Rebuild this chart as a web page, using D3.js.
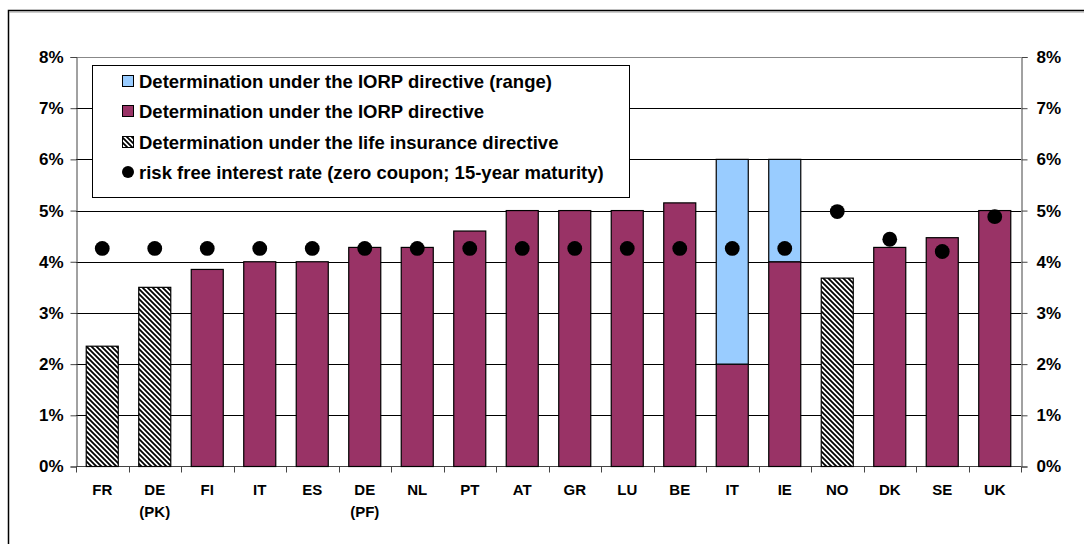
<!DOCTYPE html>
<html><head><meta charset="utf-8">
<script src="https://cdn.jsdelivr.net/npm/d3@7"></script>
<style>body{margin:0;background:#fff}svg{display:block;font-family:"Liberation Sans",Arial,sans-serif;font-weight:bold}</style>
</head><body><svg id="c" width="1084" height="544"></svg>
<script>
const categories = ["FR","DE\n(PK)","FI","IT","ES","DE\n(PF)","NL","PT","AT","GR","LU","BE","IT","IE","NO","DK","SE","UK"];
const lifeInsurance = [2.35,3.5,null,null,null,null,null,null,null,null,null,null,null,null,3.68,null,null,null];
const iorp = [null,null,3.85,4.0,4.0,4.28,4.28,4.6,5.0,5.0,5.0,5.15,2.0,4.0,null,4.28,4.47,5.0];
const iorpRangeTop = [null,null,null,null,null,null,null,null,null,null,null,null,6.0,6.0,null,null,null,null];
const riskFree = [4.26,4.26,4.26,4.26,4.26,4.26,4.26,4.26,4.26,4.26,4.26,4.26,4.26,4.26,4.98,4.44,4.2,4.88];
const yTicks = [0,1,2,3,4,5,6,7,8];
const legendLabels = ["Determination under the IORP directive (range)","Determination under the IORP directive","Determination under the life insurance directive","risk free interest rate (zero coupon; 15-year maturity)"];

const svg = d3.select("#c");
const L = 76, R = 1021, T = 57, B = 466.5;
const x = d3.scaleBand().domain(d3.range(categories.length)).range([L,R]).paddingInner(0.39).paddingOuter(0.195);
const y = d3.scaleLinear().domain([0,8]).range([B,T]);

const defs = svg.append("defs");
const pat = defs.append("pattern").attr("id","hatch").attr("patternUnits","userSpaceOnUse").attr("width",5).attr("height",5);
pat.append("rect").attr("width",5).attr("height",5).attr("fill","#fff");
pat.append("path").attr("d","M-1,-1L6,6M-1,4L1,6M4,-1L6,1").attr("stroke","#000").attr("stroke-width",1.8);

// outer frame
svg.append("rect").attr("x",8.5).attr("y",10.5).attr("width",1200).attr("height",700).attr("fill","none").attr("stroke","#000").attr("stroke-width",1.5);
svg.append("line").attr("x1",9).attr("x2",1084).attr("y1",12).attr("y2",12).attr("stroke","#999").attr("stroke-width",1);

// gridlines
svg.append("g").selectAll("line").data(yTicks.slice(1)).join("line")
  .attr("x1",L).attr("x2",R).attr("y1",d=>Math.round(y(d))+0.5).attr("y2",d=>Math.round(y(d))+0.5)
  .attr("stroke",d=>d===8?"#888":"#000").attr("stroke-width",1);

// axes
const yl = svg.append("g").attr("transform",`translate(${L+0.5},0)`).call(d3.axisLeft(y).tickValues(yTicks).tickFormat(d=>d+"%").tickSize(6).tickPadding(7));
const yr = svg.append("g").attr("transform",`translate(${R+0.5},0)`).call(d3.axisRight(y).tickValues(yTicks).tickFormat(d=>d+"%").tickSize(6).tickPadding(9));
[yl,yr].forEach(g=>{g.select(".domain").attr("stroke","#444");g.selectAll(".tick line").attr("stroke","#444");
  g.selectAll("text").attr("font-size",17).attr("font-weight","bold").attr("fill","#000").attr("font-family","Liberation Sans, Arial, sans-serif");});

// x axis
svg.append("line").attr("x1",L).attr("x2",R).attr("y1",B).attr("y2",B).attr("stroke","#444");
const step = x.step();
svg.append("g").selectAll("line").data(d3.range(categories.length+1)).join("line")
  .attr("x1",i=>Math.round(L+i*step)+0.5).attr("x2",i=>Math.round(L+i*step)+0.5).attr("y1",B).attr("y2",B+6).attr("stroke","#444");

// bars
const bars = svg.append("g");
bars.selectAll("rect.life").data(lifeInsurance.map((v,i)=>({v,i})).filter(d=>d.v!=null)).join("rect")
  .attr("x",d=>x(d.i)).attr("width",x.bandwidth()).attr("y",d=>y(d.v)).attr("height",d=>y(0)-y(d.v))
  .attr("fill","url(#hatch)").attr("stroke","#000").attr("stroke-width",1.2);
bars.selectAll("rect.iorp").data(iorp.map((v,i)=>({v,i})).filter(d=>d.v!=null)).join("rect")
  .attr("x",d=>x(d.i)).attr("width",x.bandwidth()).attr("y",d=>y(d.v)).attr("height",d=>y(0)-y(d.v))
  .attr("fill","#993366").attr("stroke","#000").attr("stroke-width",1.2);
bars.selectAll("rect.range").data(iorpRangeTop.map((v,i)=>({v,i,b:iorp[i]})).filter(d=>d.v!=null)).join("rect")
  .attr("x",d=>x(d.i)).attr("width",x.bandwidth()).attr("y",d=>y(d.v)).attr("height",d=>y(d.b)-y(d.v))
  .attr("fill","#99CCFF").attr("stroke","#000").attr("stroke-width",1.2);

// dots
svg.append("g").selectAll("circle").data(riskFree).join("circle")
  .attr("cx",(d,i)=>x(i)+x.bandwidth()/2).attr("cy",d=>y(d)).attr("r",7.4).attr("fill","#000");

// x labels
const xl = svg.append("g").selectAll("text").data(categories).join("text")
  .attr("x",(d,i)=>x(i)+x.bandwidth()/2).attr("y",495).attr("text-anchor","middle").attr("font-size",15);
xl.each(function(d){const t=d3.select(this);d.split("\n").forEach((s,k)=>t.append("tspan").attr("x",t.attr("x")).attr("dy",k?22:0).text(s));});

// legend
const lg = svg.append("g");
lg.append("rect").attr("x",92.5).attr("y",65.5).attr("width",537).attr("height",132).attr("fill","#fff").attr("stroke","#000");
const rowsY = [81,111,142,172];
legendLabels.forEach((t,k)=>{
  const cy = rowsY[k];
  if(k<3){lg.append("rect").attr("x",122.5).attr("y",cy-5.5).attr("width",11).attr("height",11)
    .attr("fill",k===0?"#99CCFF":k===1?"#993366":"url(#hatch)").attr("stroke","#000");}
  else lg.append("circle").attr("cx",128).attr("cy",cy).attr("r",6).attr("fill","#000");
  lg.append("text").attr("x",139).attr("y",cy+6.5).attr("font-size",18.5).text(t);
});
</script></body></html>
